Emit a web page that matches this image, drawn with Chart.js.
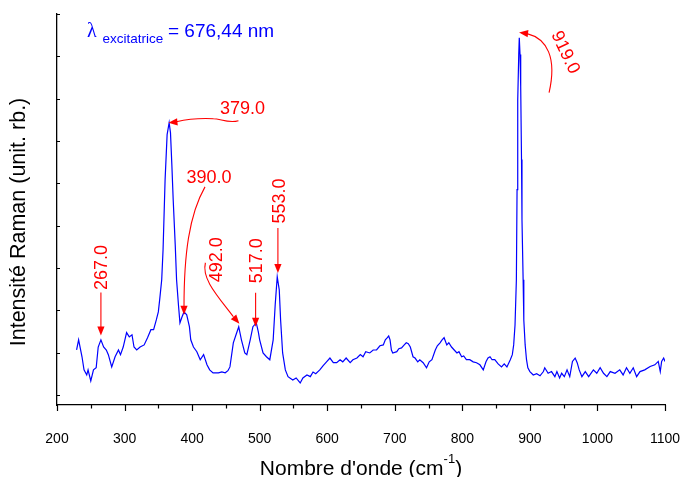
<!DOCTYPE html>
<html>
<head>
<meta charset="utf-8">
<script src="https://cdn.jsdelivr.net/npm/chart.js@4.4.0/dist/chart.umd.min.js"></script>
<style>
html, body { margin: 0; padding: 0; background: #fff; }
</style>
</head>
<body>
<canvas id="myChart" width="681" height="477"></canvas>
<script>
// spectrum (cm-1 / arbitrary units)
const waveNumbers = [
    229, 232, 237, 240, 244, 246, 250, 254, 258, 261,
    265, 269, 273, 276, 281, 286, 291, 294, 298, 303,
    307, 311, 314, 318, 323, 329, 334, 339, 343, 347,
    350, 352, 355, 357, 360, 363, 366, 368, 370, 372,
    375, 377, 380, 382, 385, 388, 392, 396, 398, 402,
    407, 412, 417, 422, 426, 431, 439, 444, 449, 453,
    456, 461, 465, 469, 473, 478, 481, 486, 490, 495,
    498, 500, 505, 510, 515, 520, 523, 526, 529, 531,
    534, 538, 542, 549, 554, 560, 564, 570, 575, 579,
    583, 589, 594, 599, 604, 609, 614, 619, 623, 628,
    634, 638, 644, 649, 653, 657, 663, 668, 673, 678,
    683, 686, 689, 691, 693, 695, 697, 703, 706, 710,
    714, 717, 720, 723, 727, 730, 734, 737, 742, 747,
    751, 755, 760, 763, 767, 770, 773, 777, 780, 784,
    788, 792, 795, 799, 802, 806, 811, 816, 821, 826,
    831, 835, 838, 841, 844, 848, 853, 858, 862, 866,
    871, 874, 876, 878, 880, 881, 882, 883.5, 884.3, 885.4,
    886.4, 887.6, 888.3, 890, 891, 893, 895, 897, 900, 905,
    910, 915, 920, 922, 927, 932, 937, 940, 944, 947,
    951, 955, 959, 963, 967, 970, 973, 977, 982, 987,
    994, 999, 1004, 1009, 1014, 1019, 1026, 1033, 1038, 1043,
    1048, 1053, 1058, 1063, 1070, 1078, 1085, 1090, 1093, 1095,
    1098, 1100
];
const intensity = [
    106, 130, 90, 59, 47, 59, 33, 59, 64, 113,
    130, 113, 106, 95, 66, 90, 106, 95, 113, 147,
    137, 142, 113, 106, 113, 118, 135, 154, 154, 177,
    196, 225, 272, 343, 508, 615, 643, 619, 544, 461,
    355, 272, 208, 170, 184, 196, 189, 161, 130, 113,
    102, 83, 95, 71, 59, 52, 52, 54, 52, 57,
    66, 123, 142, 161, 130, 99, 95, 130, 161, 170,
    149, 130, 99, 90, 83, 130, 213, 279, 248, 177,
    99, 59, 43, 35, 40, 28, 40, 47, 43, 54,
    50, 59, 69, 78, 87, 76, 76, 83, 78, 87,
    76, 83, 87, 95, 90, 102, 99, 106, 106, 116,
    118, 130, 135, 139, 130, 106, 99, 102, 109, 111,
    118, 123, 121, 113, 90, 87, 78, 83, 76, 64,
    78, 83, 106, 116, 123, 130, 135, 118, 123, 113,
    106, 99, 102, 90, 92, 83, 83, 78, 76, 71,
    59, 78, 87, 90, 83, 83, 73, 66, 73, 66,
    83, 95, 118, 165, 272, 485, 697, 804, 844, 804,
    728, 556, 414, 272, 177, 118, 83, 64, 55, 47,
    50, 45, 55, 64, 51, 55, 43, 55, 40, 51,
    43, 59, 43, 79, 87, 76, 59, 43, 55, 43,
    59, 51, 64, 51, 43, 55, 51, 59, 47, 64,
    51, 64, 43, 55, 59, 67, 71, 79, 55, 79,
    87, 79
];

const xTicks = [200, 300, 400, 500, 600, 700, 800, 900, 1000, 1100];
const yTicks = [0, 100, 200, 300, 400, 500, 600, 700, 800, 900];

// peak labels and where their arrows point (data units)
const peakLabels = ['267.0', '379.0', '390.0', '492.0', '517.0', '553.0', '919.0'];
const arrowX = [265, 365, 388, 470, 494, 527, 884];
const arrowY = [140, 643, 189, 168, 161, 288, 856];

const sans = '"Liberation Sans", Arial, sans-serif';
const red = '#ff0000';
const blue = '#0000ff';

function arrowHead(ctx, tx, ty, ang) {
    const L = 9, W = 3.6;
    ctx.beginPath();
    ctx.moveTo(tx, ty);
    ctx.lineTo(tx - L * Math.cos(ang) + W * Math.sin(ang), ty - L * Math.sin(ang) - W * Math.cos(ang));
    ctx.lineTo(tx - L * Math.cos(ang) - W * Math.sin(ang), ty - L * Math.sin(ang) + W * Math.cos(ang));
    ctx.closePath();
    ctx.fill();
}

function rotText(ctx, txt, cx, cy, ang) {
    ctx.save();
    ctx.translate(cx, cy);
    ctx.rotate(ang);
    ctx.textAlign = 'center';
    ctx.textBaseline = 'middle';
    ctx.fillText(txt, 0, 0);
    ctx.restore();
}

// how each label and arrow sits around its tip, in pixels
const drawLabel = [
    (ctx, t) => { // 267
        ctx.beginPath(); ctx.moveTo(t.x, t.y - 43); ctx.lineTo(t.x, t.y - 8); ctx.stroke();
        arrowHead(ctx, t.x, t.y, Math.PI / 2);
        rotText(ctx, t.txt, t.x + 1, t.y - 68, -Math.PI / 2);
    },
    (ctx, t) => { // 379
        ctx.beginPath();
        ctx.moveTo(t.x + 70, t.y - 2);
        ctx.bezierCurveTo(t.x + 60, t.y + 1, t.x + 52, t.y - 4, t.x + 45, t.y - 4);
        ctx.quadraticCurveTo(t.x + 25, t.y - 5, t.x + 8, t.y - 1);
        ctx.stroke();
        arrowHead(ctx, t.x, t.y, Math.PI - 0.1);
        rotText(ctx, t.txt, t.x + 74, t.y - 14, 0);
    },
    (ctx, t) => { // 390
        ctx.beginPath();
        ctx.moveTo(t.x + 21, t.y - 128);
        ctx.bezierCurveTo(t.x + 5, t.y - 100, t.x, t.y - 60, t.x, t.y - 8);
        ctx.stroke();
        arrowHead(ctx, t.x, t.y, Math.PI / 2);
        rotText(ctx, t.txt, t.x + 25, t.y - 137, 0);
    },
    (ctx, t) => { // 492
        ctx.beginPath();
        ctx.moveTo(t.x - 34, t.y - 61);
        ctx.bezierCurveTo(t.x - 38, t.y - 45, t.x - 22, t.y - 28, t.x - 6, t.y - 7);
        ctx.stroke();
        arrowHead(ctx, t.x, t.y, 0.86);
        rotText(ctx, t.txt, t.x - 22, t.y - 64, -Math.PI / 2);
    },
    (ctx, t) => { // 517
        ctx.beginPath(); ctx.moveTo(t.x, t.y - 34); ctx.lineTo(t.x, t.y - 8); ctx.stroke();
        arrowHead(ctx, t.x, t.y, Math.PI / 2);
        rotText(ctx, t.txt, t.x + 1, t.y - 66, -Math.PI / 2);
    },
    (ctx, t) => { // 553
        ctx.beginPath(); ctx.moveTo(t.x, t.y - 45); ctx.lineTo(t.x, t.y - 8); ctx.stroke();
        arrowHead(ctx, t.x, t.y, Math.PI / 2);
        rotText(ctx, t.txt, t.x + 2, t.y - 72, -Math.PI / 2);
    },
    (ctx, t) => { // 919
        ctx.beginPath();
        ctx.moveTo(t.x + 30, t.y + 60);
        ctx.bezierCurveTo(t.x + 38, t.y + 25, t.x + 28, t.y + 6, t.x + 8, t.y + 1);
        ctx.stroke();
        arrowHead(ctx, t.x, t.y, Math.atan2(-1, -9));
        rotText(ctx, t.txt, t.x + 46, t.y + 20, 1.13);
    }
];

const decor = {
    id: 'decor',
    afterDraw(chart) {
        const ctx = chart.ctx;
        const a = chart.chartArea;
        const x = chart.scales.x;
        const y = chart.scales.y;
        ctx.save();

        // tick marks
        ctx.strokeStyle = '#000';
        ctx.lineWidth = 1.2;
        ctx.beginPath();
        xTicks.forEach((v, i) => {
            const px = Math.round(x.getPixelForValue(v)) + 0.5;
            ctx.moveTo(px, a.bottom); ctx.lineTo(px, a.bottom + 6);
            if (i < xTicks.length - 1) {
                const mx = Math.round(x.getPixelForValue((v + xTicks[i + 1]) / 2)) + 0.5;
                ctx.moveTo(mx, a.bottom); ctx.lineTo(mx, a.bottom + 3.5);
            }
        });
        yTicks.forEach(v => {
            const py = Math.round(y.getPixelForValue(v)) + 0.5;
            ctx.moveTo(a.left, py); ctx.lineTo(a.left + 3, py);
        });
        ctx.stroke();

        // axis titles
        ctx.fillStyle = '#000';
        ctx.font = '21.5px ' + sans;
        rotText(ctx, 'Intensité Raman (unit. rb.)', 19, 222, -Math.PI / 2);

        const t1 = "Nombre d'onde (cm", t2 = '-1', t3 = ')';
        ctx.font = '21px ' + sans;
        const w1 = ctx.measureText(t1).width, w3 = ctx.measureText(t3).width;
        ctx.font = '13px ' + sans;
        const w2 = ctx.measureText(t2).width;
        let sx = (a.left + a.right) / 2 - (w1 + w2 + w3) / 2;
        ctx.textAlign = 'left';
        ctx.textBaseline = 'alphabetic';
        ctx.font = '21px ' + sans;
        ctx.fillText(t1, sx, 475);
        ctx.font = '13px ' + sans;
        ctx.fillText(t2, sx + w1, 463);
        ctx.font = '21px ' + sans;
        ctx.fillText(t3, sx + w1 + w2, 475);

        // excitation wavelength
        ctx.fillStyle = blue;
        ctx.font = '20px "Liberation Serif", "Times New Roman", serif';
        ctx.fillText('λ', 87, 37);
        ctx.font = '13.5px ' + sans;
        ctx.fillText('excitatrice', 102.5, 43);
        ctx.font = '19px ' + sans;
        ctx.fillText('= 676,44 nm', 168, 37);

        // peak annotations
        ctx.fillStyle = red;
        ctx.strokeStyle = red;
        ctx.lineWidth = 1.1;
        ctx.font = '18px ' + sans;
        peakLabels.forEach((txt, i) => {
            const t = { txt: txt, x: x.getPixelForValue(arrowX[i]), y: y.getPixelForValue(arrowY[i]) };
            drawLabel[i](ctx, t);
        });
        ctx.restore();
    }
};

const points = waveNumbers.map((w, i) => ({ x: w, y: intensity[i] }));

new Chart(document.getElementById('myChart'), {
    type: 'line',
    data: {
        datasets: [{
            data: points,
            borderColor: blue,
            borderWidth: 1.2,
            pointRadius: 0,
            tension: 0,
            fill: false
        }]
    },
    options: {
        responsive: false,
        animation: false,
        devicePixelRatio: 1,
        layout: { padding: { top: 14, right: 16, left: 0, bottom: 0 } },
        plugins: { legend: { display: false }, tooltip: { enabled: false } },
        scales: {
            x: {
                type: 'linear',
                min: 200,
                max: 1100,
                afterBuildTicks: s => { s.ticks = xTicks.map(v => ({ value: v })); },
                afterFit: s => { s.height = 72; s.paddingLeft = 0; s.paddingRight = 0; },
                grid: { display: false },
                border: { display: true, color: '#000', width: 1.3 },
                ticks: {
                    color: '#000', padding: 18, maxRotation: 0,
                    font: { size: 14, family: sans },
                    callback: v => String(v)
                }
            },
            y: {
                min: -24,
                max: 900,
                afterBuildTicks: s => { s.ticks = yTicks.map(v => ({ value: v })); },
                afterFit: s => { s.width = 57; s.paddingTop = 0; s.paddingBottom = 0; },
                grid: { display: false },
                border: { display: true, color: '#000', width: 1.3 },
                ticks: { display: false }
            }
        }
    },
    plugins: [decor]
});
</script>
</body>
</html>
